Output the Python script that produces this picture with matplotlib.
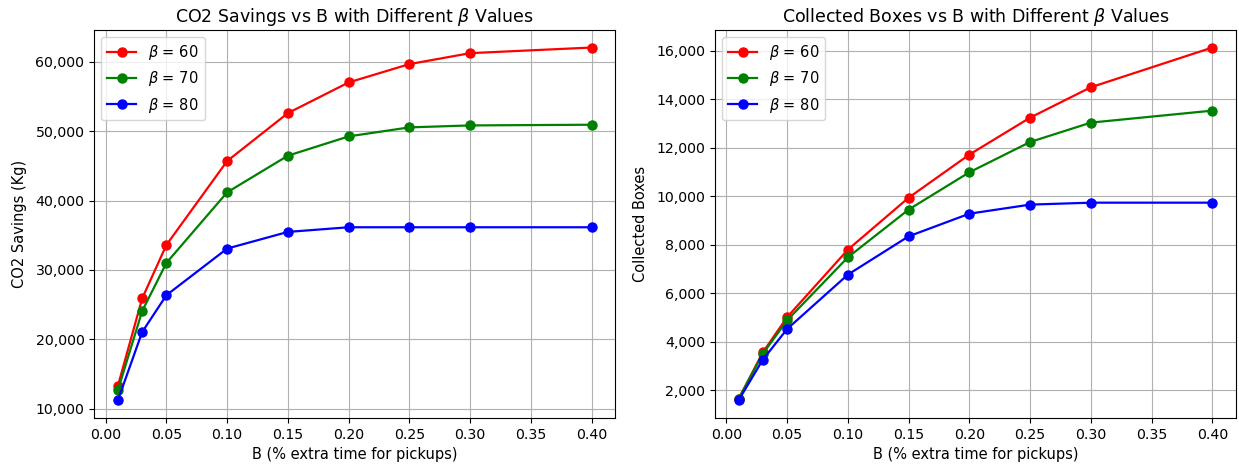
import matplotlib
matplotlib.use("Agg")
import matplotlib.pyplot as plt
from matplotlib.ticker import FuncFormatter

# B values (fraction of extra time allowed for pickups)
B = [0.01, 0.03, 0.05, 0.10, 0.15, 0.20, 0.25, 0.30, 0.40]
betas = [60, 70, 80]
colors = ['red', 'green', 'blue']

# CO2 savings (kg) for each beta
co2_b60 = [13260, 25880, 33610, 45700, 52610, 57030, 59670, 61250, 62060]
co2_b70 = [12640, 24060, 31020, 41190, 46470, 49250, 50550, 50830, 50930]
co2_b80 = [11200, 21040, 26360, 33080, 35480, 36150, 36150, 36150, 36150]

# collected boxes for each beta
boxes_b60 = [1630, 3555, 5010, 7795, 9940, 11720, 13245, 14500, 16140]
boxes_b70 = [1630, 3500, 4880, 7480, 9450, 10990, 12240, 13040, 13535]
boxes_b80 = [1575, 3255, 4520, 6765, 8345, 9280, 9655, 9735, 9735]

co2_series = [co2_b60, co2_b70, co2_b80]
boxes_series = [boxes_b60, boxes_b70, boxes_b80]

plt.rcParams['font.size'] = 10.5
plt.rcParams['xtick.labelsize'] = 10.2
plt.rcParams['ytick.labelsize'] = 10.2
plt.rcParams['lines.linewidth'] = 1.6
plt.rcParams['lines.markersize'] = 6.5

thousands = FuncFormatter(lambda v, p: f"{v:,.0f}")

fig, (ax1, ax2) = plt.subplots(1, 2, figsize=(12.39, 4.67), dpi=100)
fig.subplots_adjust(left=0.076, right=0.9976, bottom=0.105, top=0.936, wspace=0.191)

for beta, col, vals in zip(betas, colors, co2_series):
    ax1.plot(B, vals, marker='o', color=col, label=rf'$\beta$ = {beta}')
ax1.set_title(r'CO2 Savings vs B with Different $\beta$ Values', fontsize=12.5)
ax1.set_xlabel('B (% extra time for pickups)')
ax1.set_ylabel('CO2 Savings (Kg)', labelpad=6)
ax1.yaxis.set_major_formatter(thousands)
ax1.grid(True)
ax1.legend(loc='upper left')

for beta, col, vals in zip(betas, colors, boxes_series):
    ax2.plot(B, vals, marker='o', color=col, label=rf'$\beta$ = {beta}')
ax2.set_title(r'Collected Boxes vs B with Different $\beta$ Values', fontsize=12.5)
ax2.set_xlabel('B (% extra time for pickups)')
ax2.set_ylabel('Collected Boxes', labelpad=6)
ax2.yaxis.set_major_formatter(thousands)
ax2.grid(True)
ax2.legend(loc='upper left')

fig.savefig('out.png', dpi=100)
